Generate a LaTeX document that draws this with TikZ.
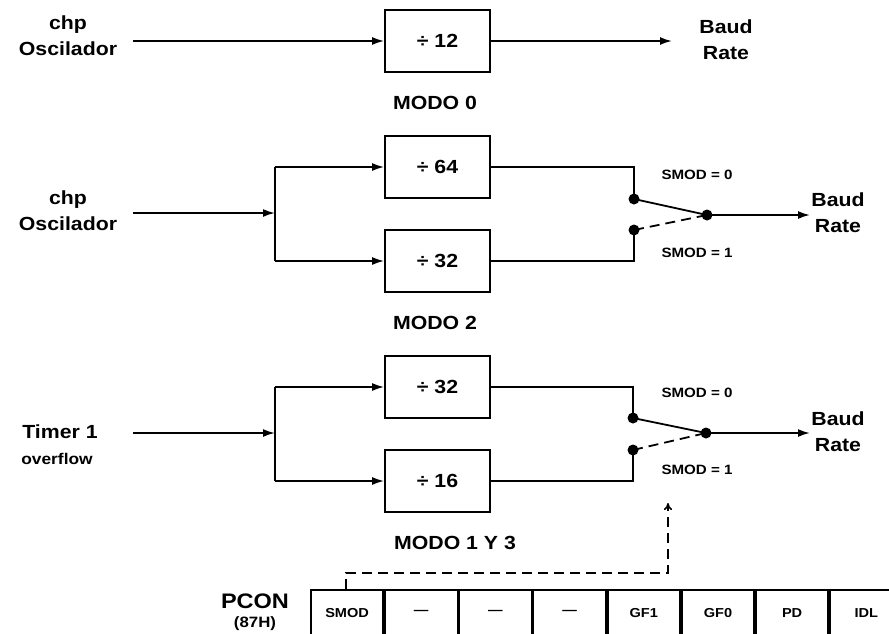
\documentclass[tikz,border=0pt]{standalone}
\usepackage{fontspec}
\setmainfont{Liberation Sans}[FakeStretch=1.12]
\usetikzlibrary{arrows.meta}
\begin{document}
\begin{tikzpicture}[x=1pt,y=-1pt,line width=1.8pt,
  blk/.style={draw,minimum width=105pt,minimum height=62pt,inner sep=0pt,font=\bfseries\fontsize{19}{20}\selectfont},
  lbl/.style={align=center,font=\bfseries\fontsize{19}{26}\selectfont},
  mode/.style={font=\bfseries\fontsize{19}{20}\selectfont},
  smod/.style={font=\bfseries\fontsize{13.5}{14}\selectfont},
  dot/.style={circle,fill,inner sep=0pt,minimum size=11pt},
  arr/.style={-{Latex[length=12pt,width=8pt]}},
  cell/.style={draw,anchor=north west,minimum width=72.375pt,minimum height=46pt,inner sep=0pt,font=\bfseries\fontsize{13}{14}\selectfont},
  dsh/.style={dash pattern=on 10pt off 6pt}
]
\useasboundingbox (0,0) rectangle (889,633);

% ---------- MODO 0
\node[blk] (b12) at (437.5,41) {÷ 12};
\node[lbl] (src0) at (68,36) {chp\\Oscilador};
\coordinate (in0) at (133,41);
\coordinate (out0) at (672,41);
\node[lbl] (br0) at (726,40) {Baud\\Rate};
\node[mode] (m0) at (435,103) {MODO 0};
\draw[arr] (in0) -- (b12.west);
\draw[arr] (b12.east) -- (out0);

% ---------- MODO 2
\node[blk] (b64) at (437.5,167) {÷ 64};
\node[blk] (b32a) at (437.5,261) {÷ 32};
\node[lbl] (src2) at (68,211) {chp\\Oscilador};
\coordinate (in2) at (133,213);
\coordinate (j2) at (275,213);
\node[dot] (s0a) at (634,199) {};
\node[dot] (s1a) at (634,230) {};
\node[dot] (pa) at (707,215) {};
\coordinate (out2) at (810,215);
\node[lbl] (br2) at (838,213) {Baud\\Rate};
\node[smod] (sa0) at (697,175) {SMOD = 0};
\node[smod] (sa1) at (697,253) {SMOD = 1};
\node[mode] (m2) at (435,323) {MODO 2};
\draw[arr] (in2) -- (j2);
\draw (j2 |- b64.west) -- (j2 |- b32a.west);
\draw[arr] (j2 |- b64.west) -- (b64.west);
\draw[arr] (j2 |- b32a.west) -- (b32a.west);
\draw (b64.east) -| (s0a.center);
\draw (b32a.east) -| (s1a.center);
\draw (s0a.center) -- (pa.center);
\draw[dsh] (s1a.center) -- (pa.center);
\draw[arr] (pa.center) -- (out2);

% ---------- MODO 1 Y 3
\node[blk] (b32b) at (437.5,387) {÷ 32};
\node[blk] (b16) at (437.5,481) {÷ 16};
\node[lbl] (src3a) at (60,432) {Timer 1};
\node[align=center,font=\bfseries\fontsize{15.5}{18}\selectfont] (src3b) at (57,459) {overflow};
\coordinate (in3) at (133,433);
\coordinate (j3) at (275,433);
\node[dot] (s0b) at (633,418) {};
\node[dot] (s1b) at (633,450) {};
\node[dot] (pb) at (706,433) {};
\coordinate (out3) at (810,433);
\node[lbl] (br3) at (838,432) {Baud\\Rate};
\node[smod] (sb0) at (697,393) {SMOD = 0};
\node[smod] (sb1) at (697,470) {SMOD = 1};
\node[mode] (m3) at (455,543) {MODO 1 Y 3};
\draw[arr] (in3) -- (j3);
\draw (j3 |- b32b.west) -- (j3 |- b16.west);
\draw[arr] (j3 |- b32b.west) -- (b32b.west);
\draw[arr] (j3 |- b16.west) -- (b16.west);
\draw (b32b.east) -| (s0b.center);
\draw (b16.east) -| (s1b.center);
\draw (s0b.center) -- (pb.center);
\draw[dsh] (s1b.center) -- (pb.center);
\draw[arr] (pb.center) -- (out3);

% ---------- PCON
\node[font=\bfseries\fontsize{21}{22}\selectfont] (pcon) at (255,601) {PCON};
\node[font=\bfseries\fontsize{15}{16}\selectfont] (pconh) at (255,624) {(87H)};
\node[cell] (c0) at (310,589) {SMOD};
\node[cell] (c1) at (c0.north east) {—};
\node[cell] (c2) at (c1.north east) {—};
\node[cell] (c3) at (c2.north east) {—};
\node[cell] (c4) at (c3.north east) {GF1};
\node[cell] (c5) at (c4.north east) {GF0};
\node[cell] (c6) at (c5.north east) {PD};
\node[cell] (c7) at (c6.north east) {IDL};
\coordinate (tgt) at (668,503);
\coordinate (t0) at (346,589);
\draw[dsh,line width=1.5pt,-{To[length=7pt,width=8pt]}] (t0) -- (346,573) -| (tgt);
\end{tikzpicture}
\end{document}
